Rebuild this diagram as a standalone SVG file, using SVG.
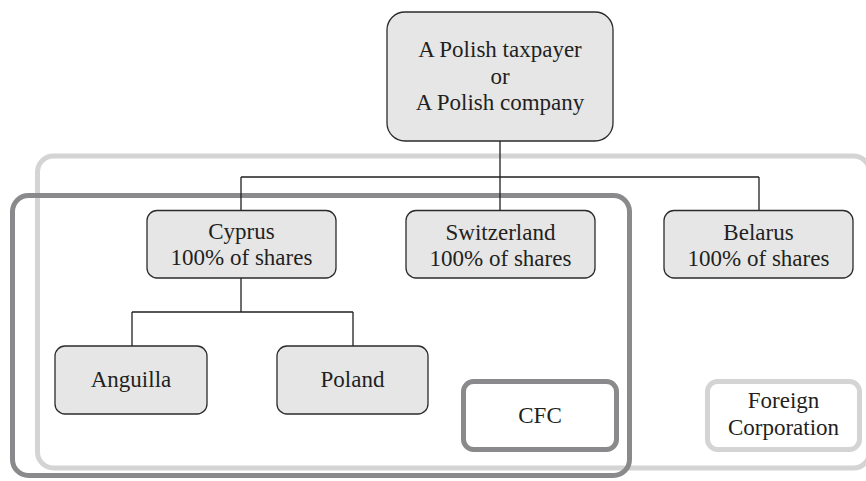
<svg xmlns="http://www.w3.org/2000/svg" width="866" height="481" viewBox="0 0 866 481">
<style>
.node{fill:#e6e6e7;stroke:#2b2b2b;stroke-width:1.3}
.t{font-family:'Liberation Serif','Tinos','Times New Roman','DejaVu Serif',serif;font-size:23px;fill:#231f20;text-anchor:middle}
.conn{stroke:#231f20;stroke-width:1.3;fill:none}
</style>
<rect width="866" height="481" fill="#fff"/>
<g id="foreign-region"><rect x="37.5" y="156" width="832" height="312" rx="16" fill="none" stroke="#d4d4d5" stroke-width="5"/></g>
<g id="cfc-region"><rect x="12.5" y="195.5" width="617" height="280" rx="16" fill="none" stroke="#8a8a8c" stroke-width="5"/></g>
<g id="connectors">
<path class="conn" d="M500 141V177M241 177H759M241 177V210M500 177V211M759 177V211M241 278V312M132 312H353M132 312V346M353 312V346"/>
</g>
<g id="top"><rect class="node" x="387" y="12" width="226" height="129" rx="18"/>
<text class="t" x="500" y="57">A Polish taxpayer</text><text class="t" x="500" y="83.5">or</text><text class="t" x="500" y="110">A Polish company</text></g>
<g id="cyprus"><rect class="node" x="147" y="210.5" width="189" height="67.5" rx="10"/>
<text class="t" x="241.5" y="239">Cyprus</text><text class="t" x="241.5" y="265">100% of shares</text></g>
<g id="switzerland"><rect class="node" x="406" y="210.5" width="189" height="67.5" rx="10"/>
<text class="t" x="500.5" y="240">Switzerland</text><text class="t" x="500.5" y="266">100% of shares</text></g>
<g id="belarus"><rect class="node" x="664" y="210.5" width="189" height="67.5" rx="10"/>
<text class="t" x="758.5" y="240">Belarus</text><text class="t" x="758.5" y="266">100% of shares</text></g>
<g id="anguilla"><rect class="node" x="55" y="346" width="152" height="68" rx="10"/>
<text class="t" x="131" y="387">Anguilla</text></g>
<g id="poland"><rect class="node" x="277" y="346" width="151" height="68" rx="10"/>
<text class="t" x="352.5" y="387">Poland</text></g>
<g id="cfc-legend"><rect x="463.5" y="381.5" width="153" height="68" rx="10" fill="#fff" stroke="#8a8a8c" stroke-width="5"/>
<text class="t" x="540" y="423">CFC</text></g>
<g id="foreign-legend"><rect x="707.5" y="381.5" width="152" height="68" rx="10" fill="#fff" stroke="#d4d4d5" stroke-width="5"/>
<text class="t" x="783.5" y="408">Foreign</text><text class="t" x="783.5" y="435">Corporation</text></g>
</svg>
